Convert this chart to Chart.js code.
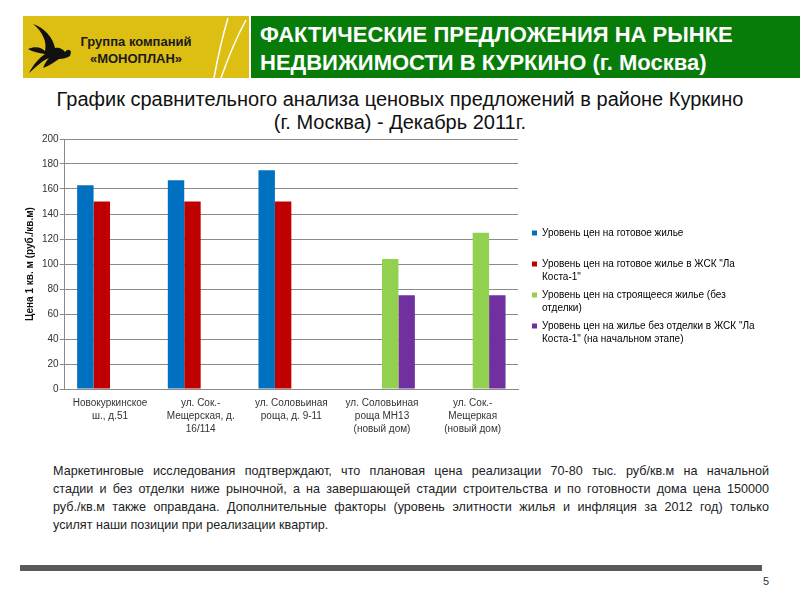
<!DOCTYPE html>
<html>
<head>
<meta charset="utf-8">
<script src="https://cdn.jsdelivr.net/npm/chart.js@4/dist/chart.umd.min.js"></script>
<style>
  body { margin: 0; width: 800px; height: 600px; background: #fff; position: relative; overflow: hidden; font-family: "Liberation Sans", Arial, sans-serif; }
  #logo { position: absolute; left: 23px; top: 16px; width: 226px; height: 62px; background: #DDBE12; }
  #logo svg { position: absolute; left: 0; top: 0; }
  #logo .name { position: absolute; left: 48px; top: 17px; width: 130px; text-align: center; font-weight: bold; font-size: 13px; line-height: 17px; color: #1a1a1a; }
  #head { position: absolute; left: 251px; top: 16px; width: 549px; height: 62px; background: #087C08; color: #fff; font-weight: bold; font-size: 22px; line-height: 28px; padding: 5px 0 0 9px; box-sizing: border-box; }
  #sub { position: absolute; left: 0; top: 88px; width: 800px; text-align: center; font-size: 20px; line-height: 23px; color: #111; }
  #wrap { position: absolute; left: 15px; top: 128px; width: 785px; height: 308px; }
  #note { position: absolute; left: 53px; top: 462px; width: 716px; font-size: 12.6px; line-height: 18px; color: #222; }
  #note span { display: block; text-align: justify; text-align-last: justify; white-space: nowrap; }
  #note span.last { text-align-last: left; }
  #bar { position: absolute; left: 20px; top: 565px; width: 742px; height: 6px; background: #595959; }
  #page { position: absolute; left: 763px; top: 575px; font-size: 11px; color: #333; }
</style>
</head>
<body>
<div id="logo">
  <svg width="226" height="62" viewBox="0 0 226 62">
    <path d="M5 33 C12 30 18 31 22 35 C24 26 20 16 10 8 C22 12 30 22 32 32 C36 31 40 33 42 36 C44 33 47 33 48 36 L47 40 C44 42 40 43 36 43 C30 47 26 50 20 52 C22 47 24 44 26 42 C20 44 14 50 6 57 C10 49 16 42 22 38 C16 37 10 36 5 33 Z" fill="#111"/>
    <path d="M191 62 C195 40 199 22 205 2" stroke="#fff" stroke-width="1.5" fill="none"/>
    <path d="M198 62 C205 42 212 24 223 4" stroke="#fff" stroke-width="1.5" fill="none"/>
  </svg>
  <div class="name">Группа компаний<br>«МОНОПЛАН»</div>
</div>
<div id="head">ФАКТИЧЕСКИЕ ПРЕДЛОЖЕНИЯ НА РЫНКЕ<br>НЕДВИЖИМОСТИ В КУРКИНО (г. Москва)</div>
<div id="sub">График сравнительного анализа ценовых предложений в районе Куркино<br>(г. Москва) - Декабрь 2011г.</div>
<div id="wrap"><canvas id="chart"></canvas></div>
<div id="note">
  <span>Маркетинговые исследования подтверждают, что плановая цена реализации 70-80 тыс. руб/кв.м на начальной</span>
  <span>стадии и без отделки ниже рыночной, а на завершающей стадии строительства и по готовности дома цена 150000</span>
  <span>руб./кв.м также оправдана. Дополнительные факторы (уровень элитности жилья и инфляция за 2012 год) только</span>
  <span class="last">усилят наши позиции при реализации квартир.</span>
</div>
<div id="bar"></div>
<div id="page">5</div>
<script>
  // значения (тыс. руб./кв.м)
  const categories = [
    ["Новокуркинское", "ш., д.51"],
    ["ул. Сок.-", "Мещерская, д.", "16/114"],
    ["ул. Соловьиная", "роща, д. 9-11"],
    ["ул. Соловьиная", "роща МН13", "(новый дом)"],
    ["ул. Сок.-", "Мещеркая", "(новый дом)"],
  ];
  const readyPrice = [163, 167, 175, null, null];
  const laCostaReady = [150, 150, 150, null, null];
  const buildingPrice = [null, null, null, 104, 125];
  const laCostaStart = [null, null, null, 75, 75];

  const seriesLabels = [
    ["Уровень цен на готовое жилье", ""],
    ["Уровень цен на готовое жилье в ЖСК \"Ла", "Коста-1\""],
    ["Уровень цен на строящееся жилье (без", "отделки)"],
    ["Уровень цен на жилье без отделки в ЖСК \"Ла", "Коста-1\" (на начальном этапе)"],
  ];
  const seriesColors = ["#0070C0", "#C00000", "#92D050", "#7030A0"];
  const yTicks = { min: 0, max: 200, step: 20 };

  const font = "'Liberation Sans', Arial, sans-serif";
  const grid = "#8A8A8A";
  const values = [readyPrice, laCostaReady, buildingPrice, laCostaStart];

  // легенда справа: фиксированная ширина и небольшой отступ от области графика
  const legendBox = {
    id: "legendBox",
    beforeLayout(chart) {
      const lg = chart.legend;
      if (!lg || lg._fixed) return;
      const fit = lg.fit;
      lg.fit = function () { fit.call(this); this.width = 282; };
      lg._fixed = true;
    },
    afterLayout(chart) {
      chart.legend.left += 9;
      chart.legend.right += 9;
    },
  };

  new Chart(document.getElementById("chart"), {
    type: "bar",
    data: {
      labels: categories,
      datasets: values.map((data, i) => ({
        label: seriesLabels[i].join(" "),
        data,
        backgroundColor: seriesColors[i],
        borderWidth: 0,
        barPercentage: 1,
        categoryPercentage: 0.725,
      })),
    },
    options: {
      responsive: true, maintainAspectRatio: false, animation: false,
      layout: { padding: { top: 11, right: 0, left: 0, bottom: 0 } },
      plugins: {
        tooltip: { enabled: false },
        legend: {
          position: "right",
          labels: {
            boxWidth: 5, boxHeight: 5, padding: 5,
            font: { family: font, size: 10, lineHeight: 1.3 }, color: "#222",
            generateLabels: (chart) => chart.data.datasets.map((ds, i) => ({
              text: seriesLabels[i], fillStyle: ds.backgroundColor, strokeStyle: ds.backgroundColor,
              lineWidth: 0, hidden: false, datasetIndex: i,
            })),
          },
        },
      },
      scales: {
        x: {
          grid: { display: false },
          border: { color: grid },
          ticks: { color: "#333", font: { family: font, size: 10, lineHeight: 1.3 }, maxRotation: 0, autoSkip: false, padding: 0 },
        },
        y: {
          min: yTicks.min, max: yTicks.max,
          grid: { color: grid, tickLength: 5 },
          border: { color: grid },
          ticks: { stepSize: yTicks.step, color: "#333", font: { family: font, size: 10 }, padding: 1 },
          title: { display: true, text: "Цена 1 кв. м (руб./кв.м)", color: "#111", font: { family: font, size: 10, weight: "bold" }, padding: { top: 9, bottom: 5 } },
        },
      },
    },
    plugins: [legendBox],
  });
</script>
</body>
</html>
